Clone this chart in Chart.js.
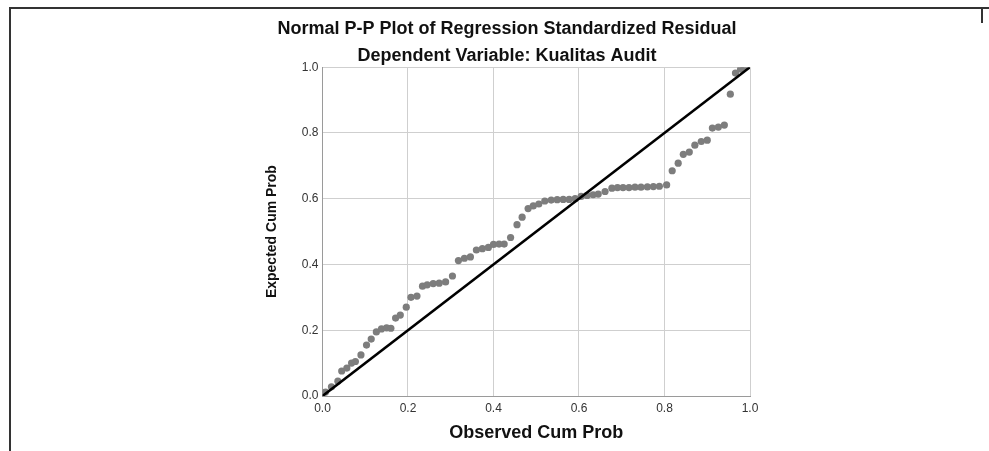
<!DOCTYPE html>
<html>
<head>
<meta charset="utf-8">
<title>Normal P-P Plot</title>
<script src="https://cdn.jsdelivr.net/npm/chart.js@4.4.1/dist/chart.umd.min.js"></script>
<style>
    html, body { margin: 0; padding: 0; background: #fff; }
    #wrap { position: relative; width: 989px; height: 451px; overflow: hidden; }
    #frame-left { position: absolute; left: 9px; top: 7px; width: 2px; height: 444px; background: #333; }
    #frame-top { position: absolute; left: 9px; top: 7px; width: 980px; height: 2px; background: #333; }
    #frame-right { position: absolute; left: 981px; top: 7px; width: 2px; height: 16px; background: #333; }
    canvas { position: absolute; left: 0; top: 0; }
</style>
</head>
<body>
<div id="wrap">
    <canvas id="pp-chart" width="989" height="451"></canvas>
    <div id="frame-left"></div>
    <div id="frame-top"></div>
    <div id="frame-right"></div>
</div>
<script>
// Observed cumulative probability (x) and expected cumulative probability (y)
const observedCumProb = [
    0.007, 0.021, 0.036, 0.045, 0.057, 0.068, 0.077, 0.090, 0.103, 0.114,
    0.126, 0.138, 0.150, 0.160, 0.171, 0.182, 0.196, 0.207, 0.221, 0.234,
    0.245, 0.259, 0.273, 0.288, 0.304, 0.318, 0.332, 0.346, 0.360, 0.374,
    0.388, 0.400, 0.413, 0.425, 0.440, 0.455, 0.467, 0.481, 0.493, 0.506,
    0.520, 0.535, 0.549, 0.563, 0.577, 0.591, 0.605, 0.619, 0.633, 0.645,
    0.661, 0.677, 0.690, 0.703, 0.717, 0.731, 0.745, 0.760, 0.774, 0.788,
    0.805, 0.818, 0.832, 0.844, 0.858, 0.871, 0.886, 0.900, 0.912, 0.926,
    0.940, 0.954, 0.966, 0.978, 0.986
];
const expectedCumProb = [
    0.012, 0.028, 0.045, 0.076, 0.085, 0.100, 0.105, 0.125, 0.155, 0.173,
    0.195, 0.204, 0.207, 0.206, 0.237, 0.246, 0.270, 0.300, 0.304, 0.334,
    0.338, 0.342, 0.343, 0.347, 0.365, 0.412, 0.419, 0.423, 0.444, 0.448,
    0.452, 0.461, 0.462, 0.462, 0.482, 0.521, 0.544, 0.570, 0.578, 0.584,
    0.593, 0.596, 0.597, 0.598, 0.598, 0.600, 0.607, 0.610, 0.612, 0.614,
    0.622, 0.632, 0.634, 0.634, 0.634, 0.635, 0.635, 0.636, 0.637, 0.638,
    0.642, 0.685, 0.708, 0.735, 0.742, 0.763, 0.774, 0.778, 0.815, 0.818,
    0.824, 0.918, 0.982, 0.994, 1.000
];

// Reference line (expected = observed)
const refLineX = [0, 1];
const refLineY = [0, 1];

// Axis ticks
const tickValues = [0, 0.2, 0.4, 0.6, 0.8, 1.0];

const FONT = "'Liberation Sans', Arial, sans-serif";

const points = observedCumProb.map((x, i) => ({ x: x, y: expectedCumProb[i] }));
const refLine = refLineX.map((x, i) => ({ x: x, y: refLineY[i] }));

const ctx = document.getElementById('pp-chart').getContext('2d');
new Chart(ctx, {
    type: 'scatter',
    data: {
        datasets: [
            {
                label: 'Residuals',
                data: points,
                backgroundColor: '#7d7d7d',
                borderWidth: 0,
                pointRadius: 3.6,
                order: 2
            },
            {
                type: 'line',
                label: 'Reference',
                data: refLine,
                borderColor: '#000',
                borderWidth: 2.6,
                pointRadius: 0,
                fill: false,
                order: 1
            }
        ]
    },
    options: {
        responsive: false,
        animation: false,
        devicePixelRatio: 1,
        layout: {
            padding: { left: 264, right: 239, top: 18, bottom: 7 }
        },
        plugins: {
            legend: { display: false },
            tooltip: { enabled: false },
            title: {
                display: true,
                text: 'Normal P-P Plot of Regression Standardized Residual',
                color: '#111',
                font: { family: FONT, size: 18, weight: 'bold' },
                padding: { top: 0, bottom: 6 }
            },
            subtitle: {
                display: true,
                text: 'Dependent Variable: Kualitas Audit',
                color: '#111',
                font: { family: FONT, size: 18, weight: 'bold' },
                padding: { top: 0, bottom: 0 }
            }
        },
        scales: {
            x: {
                type: 'linear',
                min: 0,
                max: 1,
                afterBuildTicks: axis => { axis.ticks = tickValues.map(v => ({ value: v })); },
                ticks: {
                    color: '#333',
                    font: { family: FONT, size: 12 },
                    padding: 5,
                    callback: v => v.toFixed(1)
                },
                grid: { color: '#cfcfcf', lineWidth: 1, drawTicks: false },
                border: { color: '#9a9a9a', width: 1 },
                title: {
                    display: true,
                    text: 'Observed Cum Prob',
                    color: '#111',
                    font: { family: FONT, size: 18, weight: 'bold' },
                    padding: { top: 2, bottom: 0 }
                }
            },
            y: {
                type: 'linear',
                min: 0,
                max: 1,
                afterBuildTicks: axis => { axis.ticks = tickValues.map(v => ({ value: v })); },
                ticks: {
                    color: '#333',
                    font: { family: FONT, size: 12 },
                    padding: 4,
                    callback: v => v.toFixed(1)
                },
                grid: { color: '#cfcfcf', lineWidth: 1, drawTicks: false },
                border: { color: '#9a9a9a', width: 1 },
                title: {
                    display: true,
                    text: 'Expected Cum Prob',
                    color: '#111',
                    font: { family: FONT, size: 14, weight: 'bold' },
                    padding: { top: 0, bottom: 17 }
                }
            }
        }
    }
});
</script>
</body>
</html>
